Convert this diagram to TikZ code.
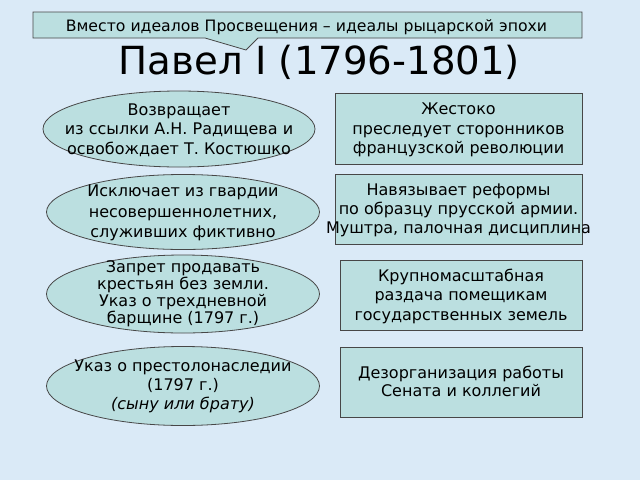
\documentclass[tikz,border=0pt]{standalone}
\usepackage{fontspec}
\setmainfont{DejaVu Sans}
\usetikzlibrary{shapes.geometric}
\definecolor{bgblue}{HTML}{DAEAF7}
\definecolor{boxfill}{HTML}{BBDFE0}
\definecolor{edge}{HTML}{474747}
\tikzset{
  ovalbox/.style={ellipse, draw=edge, fill=boxfill, line width=0.8pt, inner sep=0pt},
  rectbox/.style={rectangle, draw=edge, fill=boxfill, line width=0.8pt, inner sep=0pt},
  txt/.style={align=center, font=\fontsize{16}{19}\selectfont, inner sep=0pt, text=black},
}
\begin{document}
\begin{tikzpicture}[x=1pt,y=-1pt]
\useasboundingbox (0,0) rectangle (640,480);
\fill[bgblue] (0,0) rectangle (640,480);
% callout
\coordinate (c1) at (33,12);
\coordinate (c2) at (582,12);
\coordinate (c3) at (582,38);
\coordinate (c4) at (258,38);
\coordinate (ctip) at (246,50);
\coordinate (c5) at (205,38);
\coordinate (c6) at (33,38);
\draw[draw=edge, fill=boxfill, line width=0.8pt] (c1) -- (c2) -- (c3) -- (c4) -- (ctip) -- (c5) -- (c6) -- cycle;
\node[txt, font=\fontsize{15.7}{18}\selectfont, anchor=base] (callout) at (306.5,31) {Вместо идеалов Просвещения – идеалы рыцарской эпохи};
% title
\node[inner sep=0pt, font=\fontsize{38.7}{42}\selectfont, anchor=base] (title) at (319.5,74) {Павел I (1796-1801)};
% ellipses
\node[ovalbox, minimum width=272pt, minimum height=76pt] (e1) at (179,129) {};
\node[ovalbox, minimum width=273pt, minimum height=75pt] (e2) at (183,212) {};
\node[ovalbox, minimum width=273pt, minimum height=78pt] (e3) at (183,294) {};
\node[ovalbox, minimum width=273pt, minimum height=79pt] (e4) at (183,386) {};
\node[txt, font=\fontsize{16}{19.5}\selectfont] (t1) at (179,130) {Возвращает\\из ссылки А.Н. Радищева и\\освобождает Т. Костюшко};
\node[txt, font=\fontsize{16}{20.5}\selectfont] (t2) at (183,213) {Исключает из гвардии\\несовершеннолетних,\\служивших фиктивно};
\node[txt, font=\fontsize{16}{17}\selectfont] (t3) at (183,294) {Запрет продавать\\крестьян без земли.\\Указ о трехдневной\\барщине (1797 г.)};
\node[txt, font=\fontsize{16}{19}\selectfont] (t4) at (183,386) {Указ о престолонаследии\\(1797 г.)\\\textit{(сыну или брату)}};
% rectangles
\node[rectbox, minimum width=247pt, minimum height=71pt] (r1) at (458.5,128.5) {};
\node[rectbox, minimum width=247pt, minimum height=70pt] (r2) at (458.5,209) {};
\node[rectbox, minimum width=242pt, minimum height=70pt] (r3) at (461,295) {};
\node[rectbox, minimum width=242pt, minimum height=70pt] (r4) at (461,382) {};
\node[txt, font=\fontsize{16}{19.5}\selectfont] (s1) at (458.5,130) {Жестоко\\преследует сторонников\\французской революции};
\node[txt, font=\fontsize{16}{19}\selectfont] (s2) at (458.5,210) {Навязывает реформы\\по образцу прусской армии.\\Муштра, палочная дисциплина};
\node[txt, font=\fontsize{16}{19.5}\selectfont] (s3) at (461,296) {Крупномасштабная\\раздача помещикам\\государственных земель};
\node[txt, font=\fontsize{16}{18}\selectfont] (s4) at (461,381) {Дезорганизация работы\\Сената и коллегий};
\end{tikzpicture}
\end{document}
